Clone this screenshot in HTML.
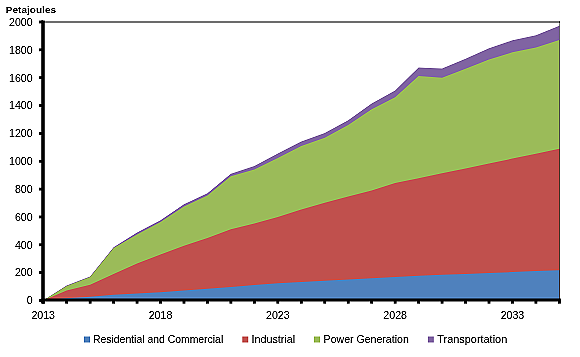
<!DOCTYPE html>
<html><head><meta charset="utf-8"><style>
html,body{margin:0;padding:0;background:#fff;}
body{width:580px;height:357px;overflow:hidden;position:relative;}
svg{position:absolute;left:0;top:0;will-change:transform;}
text{font-family:"Liberation Sans",sans-serif;font-size:10.6px;fill:#000;stroke:#000;stroke-width:0px;}
.t{font-weight:bold;font-size:9.4px;stroke-width:0;}
.lg{font-size:10.2px;stroke-width:0;}
</style></head><body>
<svg width="580" height="357" viewBox="0 0 580 357">
<defs><filter id="sh" x="0" y="0" width="100%" height="100%" color-interpolation-filters="sRGB"><feConvolveMatrix order="3" kernelMatrix="0 -0.35 0 -0.35 2.4 -0.35 0 -0.35 0" preserveAlpha="true"/></filter></defs>
<g filter="url(#sh)"><rect width="580" height="357" fill="#fff"/>
<polygon fill="#8064A2" points="43.20,300.50 66.66,285.60 90.13,276.60 113.59,247.30 137.05,232.60 160.51,220.20 183.98,204.30 207.44,193.30 230.90,173.80 254.37,165.90 277.83,153.50 301.29,141.50 324.76,133.00 348.22,120.30 371.68,103.60 395.14,90.60 418.61,67.50 442.07,68.50 465.53,58.80 489.00,48.20 512.46,40.30 535.92,35.20 559.39,25.80 559.39,300.50 535.92,300.50 512.46,300.50 489.00,300.50 465.53,300.50 442.07,300.50 418.61,300.50 395.14,300.50 371.68,300.50 348.22,300.50 324.76,300.50 301.29,300.50 277.83,300.50 254.37,300.50 230.90,300.50 207.44,300.50 183.98,300.50 160.51,300.50 137.05,300.50 113.59,300.50 90.13,300.50 66.66,300.50 43.20,300.50"/>
<polygon fill="#9BBB59" points="43.20,300.50 66.66,286.10 90.13,277.10 113.59,248.00 137.05,234.50 160.51,222.00 183.98,206.50 207.44,195.50 230.90,176.30 254.37,169.50 277.83,158.00 301.29,146.00 324.76,137.80 348.22,125.00 371.68,109.30 395.14,97.30 418.61,76.00 442.07,77.80 465.53,68.80 489.00,59.40 512.46,52.20 535.92,47.50 559.39,40.00 559.39,300.50 535.92,300.50 512.46,300.50 489.00,300.50 465.53,300.50 442.07,300.50 418.61,300.50 395.14,300.50 371.68,300.50 348.22,300.50 324.76,300.50 301.29,300.50 277.83,300.50 254.37,300.50 230.90,300.50 207.44,300.50 183.98,300.50 160.51,300.50 137.05,300.50 113.59,300.50 90.13,300.50 66.66,300.50 43.20,300.50"/>
<polygon fill="#C0504D" points="43.20,300.50 66.66,290.60 90.13,284.70 113.59,274.00 137.05,263.50 160.51,254.50 183.98,245.80 207.44,238.10 230.90,229.30 254.37,223.40 277.83,217.00 301.29,209.60 324.76,202.80 348.22,196.60 371.68,190.40 395.14,183.10 418.61,178.20 442.07,173.30 465.53,168.40 489.00,163.50 512.46,158.60 535.92,153.70 559.39,148.80 559.39,300.50 535.92,300.50 512.46,300.50 489.00,300.50 465.53,300.50 442.07,300.50 418.61,300.50 395.14,300.50 371.68,300.50 348.22,300.50 324.76,300.50 301.29,300.50 277.83,300.50 254.37,300.50 230.90,300.50 207.44,300.50 183.98,300.50 160.51,300.50 137.05,300.50 113.59,300.50 90.13,300.50 66.66,300.50 43.20,300.50"/>
<polygon fill="#4F81BD" points="43.20,300.50 66.66,298.27 90.13,296.74 113.59,294.65 137.05,293.54 160.51,292.14 183.98,290.61 207.44,288.80 230.90,286.99 254.37,285.04 277.83,283.23 301.29,281.98 324.76,280.73 348.22,279.47 371.68,278.22 395.14,276.97 418.61,275.71 442.07,274.74 465.53,273.90 489.00,272.93 512.46,272.09 535.92,271.12 559.39,270.14 559.39,300.50 535.92,300.50 512.46,300.50 489.00,300.50 465.53,300.50 442.07,300.50 418.61,300.50 395.14,300.50 371.68,300.50 348.22,300.50 324.76,300.50 301.29,300.50 277.83,300.50 254.37,300.50 230.90,300.50 207.44,300.50 183.98,300.50 160.51,300.50 137.05,300.50 113.59,300.50 90.13,300.50 66.66,300.50 43.20,300.50"/>
<line x1="43" y1="22" x2="560" y2="22" stroke="#222" stroke-width="1.2"/>
<line x1="559.6" y1="21.5" x2="559.6" y2="300" stroke="#000" stroke-opacity="0.4" stroke-width="1"/>
<line x1="39.2" y1="300.50" x2="43" y2="300.50" stroke="#000" stroke-width="2.9"/><line x1="39.2" y1="272.65" x2="43" y2="272.65" stroke="#000" stroke-width="2.9"/><line x1="39.2" y1="244.80" x2="43" y2="244.80" stroke="#000" stroke-width="2.9"/><line x1="39.2" y1="216.95" x2="43" y2="216.95" stroke="#000" stroke-width="2.9"/><line x1="39.2" y1="189.10" x2="43" y2="189.10" stroke="#000" stroke-width="2.9"/><line x1="39.2" y1="161.25" x2="43" y2="161.25" stroke="#000" stroke-width="2.9"/><line x1="39.2" y1="133.40" x2="43" y2="133.40" stroke="#000" stroke-width="2.9"/><line x1="39.2" y1="105.55" x2="43" y2="105.55" stroke="#000" stroke-width="2.9"/><line x1="39.2" y1="77.70" x2="43" y2="77.70" stroke="#000" stroke-width="2.9"/><line x1="39.2" y1="49.85" x2="43" y2="49.85" stroke="#000" stroke-width="2.9"/><line x1="39.2" y1="22.00" x2="43" y2="22.00" stroke="#000" stroke-width="2.9"/>
<line x1="43.20" y1="300" x2="43.20" y2="303.6" stroke="#000" stroke-width="2.9"/><line x1="66.66" y1="300" x2="66.66" y2="303.6" stroke="#000" stroke-width="2.9"/><line x1="90.13" y1="300" x2="90.13" y2="303.6" stroke="#000" stroke-width="2.9"/><line x1="113.59" y1="300" x2="113.59" y2="303.6" stroke="#000" stroke-width="2.9"/><line x1="137.05" y1="300" x2="137.05" y2="303.6" stroke="#000" stroke-width="2.9"/><line x1="160.51" y1="300" x2="160.51" y2="303.6" stroke="#000" stroke-width="2.9"/><line x1="183.98" y1="300" x2="183.98" y2="303.6" stroke="#000" stroke-width="2.9"/><line x1="207.44" y1="300" x2="207.44" y2="303.6" stroke="#000" stroke-width="2.9"/><line x1="230.90" y1="300" x2="230.90" y2="303.6" stroke="#000" stroke-width="2.9"/><line x1="254.37" y1="300" x2="254.37" y2="303.6" stroke="#000" stroke-width="2.9"/><line x1="277.83" y1="300" x2="277.83" y2="303.6" stroke="#000" stroke-width="2.9"/><line x1="301.29" y1="300" x2="301.29" y2="303.6" stroke="#000" stroke-width="2.9"/><line x1="324.76" y1="300" x2="324.76" y2="303.6" stroke="#000" stroke-width="2.9"/><line x1="348.22" y1="300" x2="348.22" y2="303.6" stroke="#000" stroke-width="2.9"/><line x1="371.68" y1="300" x2="371.68" y2="303.6" stroke="#000" stroke-width="2.9"/><line x1="395.14" y1="300" x2="395.14" y2="303.6" stroke="#000" stroke-width="2.9"/><line x1="418.61" y1="300" x2="418.61" y2="303.6" stroke="#000" stroke-width="2.9"/><line x1="442.07" y1="300" x2="442.07" y2="303.6" stroke="#000" stroke-width="2.9"/><line x1="465.53" y1="300" x2="465.53" y2="303.6" stroke="#000" stroke-width="2.9"/><line x1="489.00" y1="300" x2="489.00" y2="303.6" stroke="#000" stroke-width="2.9"/><line x1="512.46" y1="300" x2="512.46" y2="303.6" stroke="#000" stroke-width="2.9"/><line x1="535.92" y1="300" x2="535.92" y2="303.6" stroke="#000" stroke-width="2.9"/><line x1="559.39" y1="300" x2="559.39" y2="303.6" stroke="#000" stroke-width="2.9"/>
<line x1="43" y1="20.5" x2="43" y2="303.6" stroke="#000" stroke-width="3.4"/>
<line x1="41.5" y1="300" x2="560.8" y2="300" stroke="#000" stroke-width="3.1"/>
<text x="32.6" y="304.30" text-anchor="end">0</text><text x="32.6" y="276.45" text-anchor="end">200</text><text x="32.6" y="248.60" text-anchor="end">400</text><text x="32.6" y="220.75" text-anchor="end">600</text><text x="32.6" y="192.90" text-anchor="end">800</text><text x="32.6" y="165.05" text-anchor="end">1000</text><text x="32.6" y="137.20" text-anchor="end">1200</text><text x="32.6" y="109.35" text-anchor="end">1400</text><text x="32.6" y="81.50" text-anchor="end">1600</text><text x="32.6" y="53.65" text-anchor="end">1800</text><text x="32.6" y="25.80" text-anchor="end">2000</text>
<text x="43.20" y="318.8" text-anchor="middle">2013</text><text x="160.51" y="318.8" text-anchor="middle">2018</text><text x="277.83" y="318.8" text-anchor="middle">2023</text><text x="395.14" y="318.8" text-anchor="middle">2028</text><text x="512.46" y="318.8" text-anchor="middle">2033</text>
<text class="t" x="5.8" y="13" textLength="50.3" lengthAdjust="spacingAndGlyphs">Petajoules</text>
<rect x="84" y="336.5" width="6" height="6" fill="#4F81BD"/>
<text class="lg" x="93" y="342.8" textLength="130.2" lengthAdjust="spacingAndGlyphs">Residential and Commercial</text>
<rect x="242.3" y="336.5" width="6" height="6" fill="#C0504D"/>
<text class="lg" x="251.5" y="342.8" textLength="43.6" lengthAdjust="spacingAndGlyphs">Industrial</text>
<rect x="314" y="336.5" width="6" height="6" fill="#9BBB59"/>
<text class="lg" x="323.6" y="342.8" textLength="85.2" lengthAdjust="spacingAndGlyphs">Power Generation</text>
<rect x="427.8" y="336.5" width="6" height="6" fill="#8064A2"/>
<text class="lg" x="437.3" y="342.8" textLength="69.9" lengthAdjust="spacingAndGlyphs">Transportation</text>
</g></svg>
</body></html>
